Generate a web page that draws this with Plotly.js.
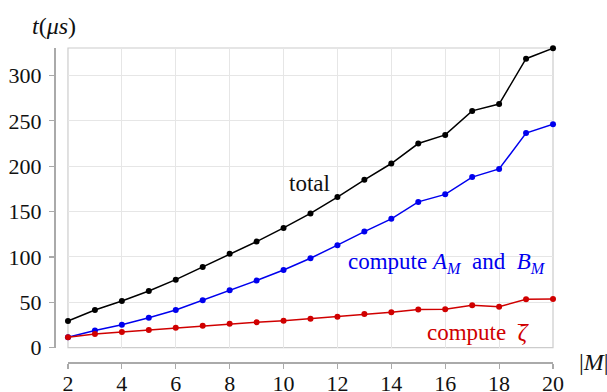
<!DOCTYPE html>
<html>
<head>
<meta charset="utf-8">
<script src="https://cdn.plot.ly/plotly-3.0.1.min.js"></script>
<style>html,body{margin:0;padding:0;background:#fff;}</style>
</head>
<body>
<div id="chart" style="width:607px;height:392px;"></div>
<script>
const M = [2,3,4,5,6,7,8,9,10,11,12,13,14,15,16,17,18,19,20];
const total = [29.5,41.5,51.5,62.5,75,89,103.5,117,132,148,166,185,203,225,234.5,261,268.5,318.5,330];
const computeAB = [11.5,19,25.4,33,41.6,52.3,63.3,74,85.6,98.6,113,128,142,160.7,169,188,197,236.5,246.4];
const computeZeta = [11.5,15.1,17.3,19.5,22,24.3,26.5,28,29.8,32,34.2,37.2,39,42,42.3,46.7,45.2,53.3,53.7];
const xTicks = [2,4,6,8,10,12,14,16,18,20];
const yTicks = [0,50,100,150,200,250,300];

const FONT = 'Times New Roman';
function series(y, color) {
  return {x: M, y: y, type: 'scatter', mode: 'lines+markers',
    line: {color: color, width: 1.5}, marker: {color: color, size: 6}, showlegend: false,
    cliponaxis: false};
}
const data = [series(total, '#000000'), series(computeAB, '#0000ee'), series(computeZeta, '#d00000')];

const layout = {
  width: 607, height: 392,
  margin: {l: 54, r: 54, t: 48, b: 30},
  paper_bgcolor: '#fff', plot_bgcolor: '#fff',
  font: {family: FONT, size: 22, color: '#111'},
  xaxis: {
    domain: [0.028, 1], anchor: 'free', position: 0,
    range: [2, 20], tickvals: xTicks, ticktext: xTicks.map(String),
    showgrid: true, gridcolor: '#e6e6e6', gridwidth: 1, zeroline: false,
    showline: true, linecolor: '#aaaaaa', linewidth: 1.5,
    ticks: 'outside', ticklen: 5, tickcolor: '#aaaaaa', tickwidth: 1.2,
    ticklabelstandoff: -4,
    tickfont: {family: FONT, size: 22, color: '#111'}
  },
  yaxis: {
    domain: [0.0455, 1], anchor: 'free', position: 0,
    range: [0, 330.3], tickvals: yTicks, ticktext: yTicks.map(String),
    showgrid: true, gridcolor: '#e6e6e6', gridwidth: 1, zeroline: false,
    showline: true, linecolor: '#aaaaaa', linewidth: 1.5,
    ticks: 'outside', ticklen: 5, tickcolor: '#aaaaaa', tickwidth: 1.2,
    ticklabelstandoff: 3,
    tickfont: {family: FONT, size: 22, color: '#111'}
  },
  shapes: [
    {type: 'rect', xref: 'x domain', yref: 'y domain', x0: 0, x1: 1, y0: 0, y1: 1,
     line: {color: '#cccccc', width: 1.2}, layer: 'below'}
  ],
  annotations: [
    {text: '<i>t</i>(<i>μs</i>)', xref: 'paper', yref: 'paper', x: 0, y: 1.07,
     xanchor: 'center', yanchor: 'middle', showarrow: false, font: {family: FONT, size: 24, color: '#111'}},
    {text: '|<i>M</i>|', xref: 'paper', yref: 'paper', x: 1.082, y: 0,
     xanchor: 'center', yanchor: 'middle', showarrow: false, font: {family: FONT, size: 24, color: '#111'}},
    {text: 'total', xref: 'x', yref: 'y', x: 10.95, y: 180.5,
     xanchor: 'center', yanchor: 'middle', showarrow: false, font: {family: FONT, size: 23, color: '#111'}},
    {text: 'compute <i>A<sub>M</sub></i>  and  <i>B<sub>M</sub></i>', xref: 'x', yref: 'y', x: 16.05, y: 93.4,
     xanchor: 'center', yanchor: 'middle', showarrow: false, font: {family: FONT, size: 23, color: '#0000ee'}},
    {text: 'compute  <i>ζ</i>', xref: 'x', yref: 'y', x: 19.2, y: 17.3,
     xanchor: 'right', yanchor: 'middle', showarrow: false, font: {family: FONT, size: 23, color: '#d00000'}},
    {text: '¯', xref: 'x', yref: 'y', x: 18.9, y: 16.5,
     xanchor: 'center', yanchor: 'middle', showarrow: false, font: {family: FONT, size: 21, color: '#d00000'}}
  ]
};
Plotly.newPlot('chart', data, layout, {displayModeBar: false, staticPlot: true});
</script>
</body>
</html>
